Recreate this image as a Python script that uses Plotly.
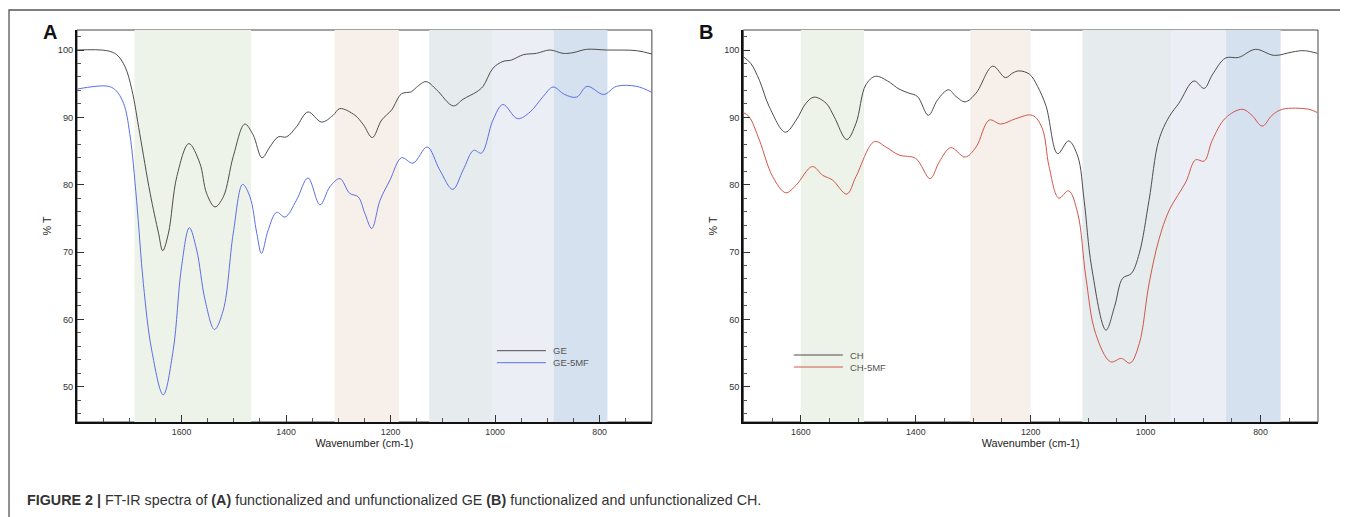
import plotly.graph_objects as go

# ---------------- data ----------------
GE_wn = [1800,1743,1724,1708,1695,1680,1660,1644,1636,1625,1609,1586,1565,1552,1536,1520,1501,1479,1463,1446,
         1431,1415,1399,1380,1358,1332,1310,1297,1268,1252,1235,1217,1198,1179,1160,1150,1132,1112,1080,1061,
         1035,1023,1004,985,969,946,921,895,870,851,825,787,729,700]
GE_T = [100,99.9,99.3,97.5,94.1,87.6,78.7,72.8,70.2,72.8,81.2,86.1,83.2,78.7,76.7,78.2,84.2,89.0,87.4,84.0,
        85.6,87.1,87.1,88.6,90.8,89.3,90.3,91.3,90.3,88.9,87.0,89.6,91.1,93.5,93.8,94.5,95.3,94.1,91.7,92.7,
        93.8,94.6,97.3,98.3,98.5,99.3,99.5,100,99.5,99.6,100.1,100,99.9,99.4]

GE5_wn = [1800,1743,1727,1711,1699,1686,1673,1657,1635,1616,1600,1585,1571,1555,1537,1520,1501,1483,1469,1456,
          1447,1434,1418,1402,1380,1358,1335,1316,1297,1278,1262,1249,1236,1220,1201,1179,1157,1130,1106,1081,
          1061,1041,1026,1004,985,957,933,908,889,867,844,824,792,768,729,700]
GE5_T = [94.2,94.65,94.1,92.1,87.6,77.7,65.3,55.4,48.8,55.4,67.8,73.6,70.3,62.9,58.5,61.4,72.8,80.05,78.2,72.8,
         69.8,73.3,75.9,75.2,77.7,81.0,77.0,79.7,80.9,78.7,78.2,75.7,73.5,77.7,80.7,84.0,83.2,85.6,82.2,79.3,
         82.2,85.1,84.7,89.6,91.9,89.8,90.8,93.1,94.5,93.4,93.0,94.6,93.4,94.6,94.6,93.7]

CH_wn = [1700,1687,1672,1655,1627,1608,1591,1577,1556,1542,1520,1504,1487,1470,1449,1429,1412,1397,1378,1362,
         1343,1330,1314,1295,1266,1244,1231,1220,1202,1188,1173,1153,1134,1118,1107,1094,1069,1054,1040,1025,
         1011,994,977,959,942,916,898,884,861,838,809,776,745,724,701]
CH_T = [99.0,98.0,95.5,91.6,87.8,89.6,92.1,93.0,92.1,90.1,86.7,89.1,94.8,96.1,95.4,94.2,93.6,93.1,90.3,92.6,
        94.1,93.1,92.3,93.6,97.6,95.9,96.6,96.9,96.4,94.6,91.6,84.6,86.5,84.2,77.7,67.8,58.4,61.9,66.1,66.8,
        69.8,77.7,86.6,90.1,92.1,95.4,94.3,96.3,98.8,98.9,100.1,99.2,99.7,99.9,99.5]

CH5_wn = [1700,1690,1672,1649,1626,1608,1580,1562,1545,1520,1504,1472,1452,1429,1400,1375,1359,1339,1314,1295,
          1272,1252,1226,1197,1180,1168,1151,1134,1118,1104,1087,1061,1042,1027,1011,994,977,959,930,913,
          898,884,861,832,815,797,780,762,716,701]
CH5_T = [90.7,90.1,86.6,81.2,78.8,79.95,82.7,81.4,80.7,78.6,81.2,86.4,85.6,84.4,83.9,80.9,83.4,85.5,84.1,85.6,
         89.6,89.0,89.8,90.3,88.4,82.7,78.0,79.1,75.7,66.3,57.9,53.7,54.2,53.5,56.4,65.3,71.8,76.2,80.4,83.7,
         83.5,86.6,89.9,91.2,90.3,88.7,90.3,91.2,91.2,90.7]

A_names = ["GE", "GE-5MF"]
B_names = ["CH", "CH-5MF"]

A_band_start = [1690, 1307, 1126, 1006, 888]
A_band_end = [1467, 1184, 1006, 888, 785]
B_band_start = [1600, 1305, 1110, 955, 860]
B_band_end = [1490, 1200, 955, 860, 765]
band_colors = ["#edf3e8", "#f7efe9", "#e6ebed", "#eceef6", "#d5e1ee"]

x_ticks = [1600, 1400, 1200, 1000, 800]
A_xrange = [1800, 700]
B_xrange = [1700, 700]
y_range = [44.76, 102.97]

caption = ("<b>FIGURE 2 |</b> FT-IR spectra of <b>(A)</b> functionalized and unfunctionalized GE "
           "<b>(B)</b> functionalized and unfunctionalized CH.")

# ---------------- layout geometry ----------------
# the page body has an 8px margin, so page coordinates are shifted by OFF
OFF = 8
W, H = 1348 - OFF, 517 - OFF
ML = 77 - OFF
RIGHT = 1318.3 - OFF
TOP = 30 - OFF
BOTTOM = 422 - OFF
MR, MT, MB = W - RIGHT, TOP, H - BOTTOM
PW = W - ML - MR
PH = H - MT - MB


def px(x):
    return (x - OFF - ML) / PW


def py(y):
    return (BOTTOM - (y - OFF)) / PH


FONT = "Liberation Sans, Arial, sans-serif"
DARK = "#4d4d4d"
BLUE = "#5b6fe6"
RED = "#d0574a"

fig = go.Figure()
fig.add_trace(go.Scatter(x=GE_wn, y=GE_T, name=A_names[0], mode="lines", line=dict(color=DARK, width=1, shape="spline", smoothing=1),
                         xaxis="x", yaxis="y", showlegend=False))
fig.add_trace(go.Scatter(x=GE5_wn, y=GE5_T, name=A_names[1], mode="lines", line=dict(color=BLUE, width=1, shape="spline", smoothing=1),
                         xaxis="x", yaxis="y", showlegend=False))
fig.add_trace(go.Scatter(x=CH_wn, y=CH_T, name=B_names[0], mode="lines", line=dict(color=DARK, width=1, shape="spline", smoothing=1),
                         xaxis="x2", yaxis="y2", showlegend=False))
fig.add_trace(go.Scatter(x=CH5_wn, y=CH5_T, name=B_names[1], mode="lines", line=dict(color=RED, width=1, shape="spline", smoothing=1),
                         xaxis="x2", yaxis="y2", showlegend=False))

shapes = []
annotations = []

# outer figure frame
shapes.append(dict(type="rect", xref="paper", yref="paper", x0=px(9), x1=px(1370), y0=py(540), y1=py(10),
                   line=dict(color="#555555", width=1.3), fillcolor="rgba(0,0,0,0)", layer="below"))

for xr, yr, starts, ends in [("x", "y", A_band_start, A_band_end), ("x2", "y2", B_band_start, B_band_end)]:
    # thin frame (top/right)
    shapes.append(dict(type="rect", xref=f"{xr} domain", yref=f"{yr} domain", x0=0, x1=1, y0=0, y1=1,
                       line=dict(color="#444444", width=1), layer="below"))
    for s, e, c in zip(starts, ends, band_colors):
        shapes.append(dict(type="rect", xref=xr, yref=f"{yr} domain", x0=s, x1=e, y0=0, y1=1,
                           fillcolor=c, line=dict(width=0), layer="below"))

# manual legends
for (x0, x1, ytop, names, colors) in [(497, 546, 350.7, A_names, [DARK, BLUE]),
                                      (794, 843, 355.0, B_names, [DARK, RED])]:
    for i, (n, c) in enumerate(zip(names, colors)):
        yy = ytop + i * 12
        shapes.append(dict(type="line", xref="paper", yref="paper", x0=px(x0), x1=px(x1), y0=py(yy), y1=py(yy),
                           line=dict(color=c, width=1)))
        annotations.append(dict(text=n, xref="paper", yref="paper", x=px(x1 + 5), y=py(yy), xanchor="left",
                                yanchor="middle", showarrow=False, font=dict(family=FONT, size=9.5, color="#555555")))

# panel letters
annotations.append(dict(text="<b>A</b>", xref="paper", yref="paper", x=px(50), y=py(32), xanchor="center", yanchor="middle",
                        showarrow=False, font=dict(family=FONT, size=20, color="#111111")))
annotations.append(dict(text="<b>B</b>", xref="paper", yref="paper", x=px(706), y=py(32), xanchor="center", yanchor="middle",
                        showarrow=False, font=dict(family=FONT, size=20, color="#111111")))
# caption
annotations.append(dict(text=caption, xref="paper", yref="paper", x=px(25), y=py(500), xanchor="left", yanchor="middle",
                        showarrow=False, font=dict(family=FONT, size=14.3, color="#333333")))

xa_common = dict(tickvals=x_ticks, ticks="inside", ticklen=7, tickwidth=1, tickcolor="#333333",
                 minor=dict(tickmode="linear", tick0=0, dtick=50, ticks="inside", ticklen=4, tickcolor="#555555"),
                 showline=True, linewidth=2, linecolor="#111111", showgrid=False, zeroline=False,
                 tickfont=dict(family=FONT, size=8.8, color="#333333"),
                 title=dict(text="Wavenumber (cm-1)", font=dict(family=FONT, size=10.8, color="#222222"), standoff=3))
ya_common = dict(range=y_range, tickmode="linear", tick0=0, dtick=10, ticks="inside", ticklen=7, tickwidth=1, tickcolor="#333333",
                 minor=dict(tickmode="linear", tick0=0, dtick=2, ticks="inside", ticklen=4, tickcolor="#555555"),
                 showline=True, linewidth=2, linecolor="#111111", showgrid=False, zeroline=False,
                 tickfont=dict(family=FONT, size=9.2, color="#333333"),
                 title=dict(text="% T", font=dict(family=FONT, size=10.8, color="#222222"), standoff=4))

fig.update_layout(
    width=W, height=H, autosize=False,
    margin=dict(l=ML, r=MR, t=MT, b=MB, pad=0),
    paper_bgcolor="white", plot_bgcolor="white",
    xaxis=dict(domain=[0, 575 / PW], range=A_xrange, anchor="y", **xa_common),
    yaxis=dict(domain=[0, 1], anchor="x", **ya_common),
    xaxis2=dict(domain=[(743.5 - OFF - ML) / PW, 1], range=B_xrange, anchor="y2", **xa_common),
    yaxis2=dict(domain=[0, 1], anchor="x2", **ya_common),
    shapes=shapes,
    annotations=annotations,
    showlegend=False,
)

fig.write_html("out.html")
